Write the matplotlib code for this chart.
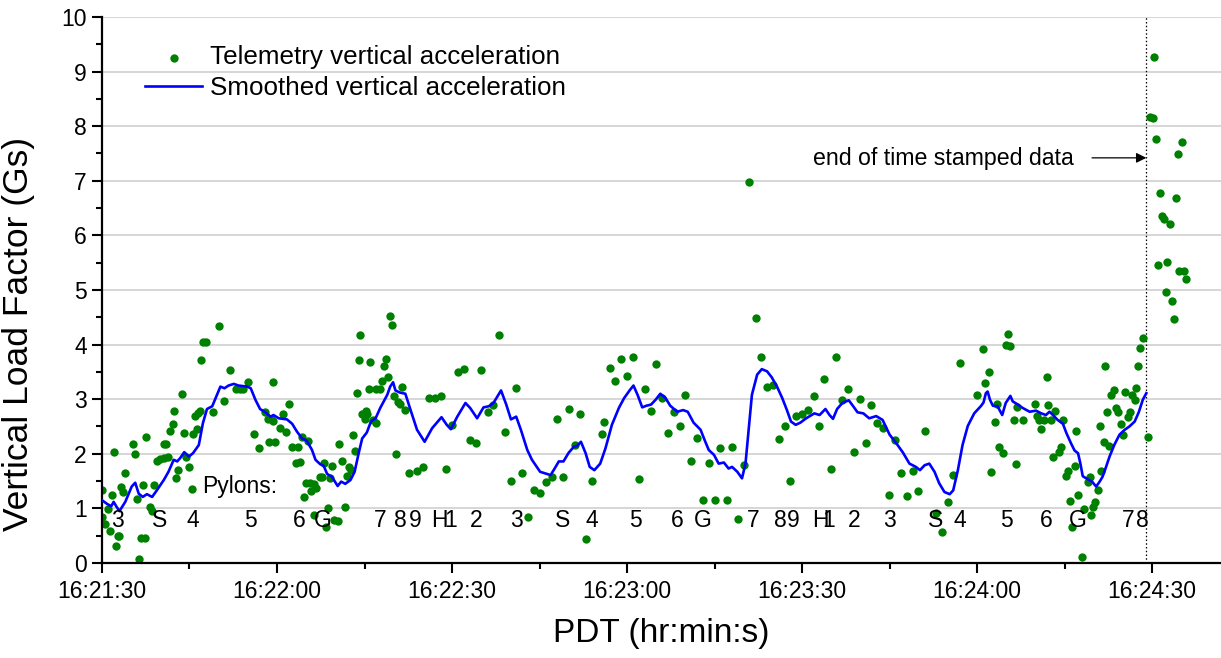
import matplotlib
matplotlib.use("Agg")
import matplotlib.pyplot as plt
from matplotlib.ticker import MultipleLocator, FuncFormatter

plt.rcParams['font.family'] = ['Liberation Sans', 'DejaVu Sans']

# seconds after 16:21:30 PDT
t0 = 16 * 3600 + 21 * 60 + 30

pts_t = [0.0, 0.0, 0.6, 1.0, 1.3, 1.7, 2.0, 2.4, 2.7, 3.0, 3.3, 3.6, 4.0, 5.3, 5.7, 6.0, 6.3, 6.7,
         7.0, 7.4, 7.6, 8.3, 8.6, 9.0, 9.4, 9.9, 10.6, 10.6, 11.0, 11.4, 11.7, 12.1, 12.3, 12.7,
         13.0, 13.7, 14.0, 14.4, 15.0, 15.4, 15.6, 16.0, 16.3, 16.4, 16.8, 17.0, 17.3, 17.8, 19.0,
         20.0, 21.0, 22.0, 22.9, 23.6, 24.2, 25.0, 26.0, 27.0, 28.0, 28.6, 28.4, 28.9, 29.3, 29.4,
         29.7, 30.6, 31.0, 31.6, 32.1, 32.6, 33.3, 33.6, 34.0, 34.3, 34.7, 35.0, 35.4, 35.7, 35.8,
         36.3, 36.4, 36.7, 37.3, 37.8, 38.0, 38.4, 38.7, 39.1, 39.4, 39.7, 40.5, 40.7, 41.1, 41.6,
         42.0, 42.3, 42.7, 43.0, 43.4, 43.7, 44.0, 44.3, 44.6, 45.0, 45.3, 45.5, 45.7, 46.0, 46.5,
         46.9, 46.9, 47.6, 48.0, 48.3, 48.7, 49.0, 49.4, 49.7, 50.0, 50.4, 50.7, 51.1, 51.5, 52.0,
         52.6, 54.0,
         55.0, 56.0, 57.0, 58.1, 59.0, 60.0, 61.0, 62.1, 63.0, 64.1, 65.0, 66.1, 67.0, 68.0, 69.0,
         70.1, 71.0, 72.0, 73.0, 74.0, 75.0, 76.1, 77.1, 78.0, 79.0, 80.0, 81.0, 82.0, 83.0, 84.0,
         85.7, 86.1, 87.0, 88.0, 89.0, 90.0, 91.0, 92.0, 93.0, 94.1, 95.0, 96.0, 97.0, 98.0, 99.0,
         100.0, 101.0, 102.0, 103.0, 104.0, 105.1, 106.0, 107.2, 108.0, 109.1, 110.0, 110.9, 112.1,
         113.0, 114.0, 115.0, 116.1, 117.0, 118.0, 119.0, 120.0, 121.0, 122.0, 122.9,
         123.8, 124.9, 125.8, 126.9, 127.9, 128.9, 129.9, 130.9, 131.8, 132.9, 133.8, 134.9, 135.9,
         137.0, 137.9, 139.0, 139.9, 141.0, 142.9, 144.0, 145.0, 145.9, 147.0, 149.9, 151.0, 151.3,
         152.0, 152.3, 153.0, 153.4, 153.8, 154.4, 154.9, 155.3, 155.7, 156.3, 156.6, 156.9, 157.9,
         159.9, 160.2, 160.6, 161.0, 161.4, 161.9, 162.2, 162.7, 163.0, 163.4, 164.0, 164.3, 164.7,
         165.3, 165.5, 166.0, 166.3, 166.7, 166.9, 167.3, 168.0, 168.4, 169.0, 169.4, 169.6, 169.9,
         170.2, 170.7, 171.0, 171.3, 171.7, 172.0, 172.3, 172.6, 173.0, 173.4, 173.8, 174.2, 174.6,
         175.0, 175.3, 175.8, 176.2, 176.5, 177.0, 177.3, 177.6, 178.0, 178.4, 179.3,
         179.7, 180.2, 180.4, 180.7, 181.0, 181.4, 181.7, 182.1, 182.4, 182.5, 183.1, 183.4, 183.7,
         184.1, 184.5, 184.6, 185.2, 185.5, 185.8]
pts_g = [1.33, 0.85, 0.72, 0.98, 0.59, 1.24, 2.03, 0.32, 0.49, 0.49, 1.40, 1.30, 1.65, 2.18, 2.00,
         1.17, 0.07, 0.45, 1.42, 0.46, 2.30, 1.02, 0.96, 1.42, 1.87, 1.90, 1.92, 2.18, 2.18, 1.95,
         2.42, 2.54, 2.79, 1.56, 1.71, 3.10, 2.38, 1.95, 1.75, 1.35, 2.36, 2.70, 2.45, 2.75, 2.79,
         3.71, 4.04, 4.04, 2.77, 4.34, 2.96, 3.53, 3.18, 3.18, 3.18, 3.31, 2.36, 2.11, 2.77, 2.22,
         2.63, 2.63, 2.60, 3.31, 2.22, 2.47, 2.72, 2.39, 2.91, 2.12, 1.83, 2.12, 1.85, 2.30, 1.21,
         1.47, 2.24, 1.47, 1.32, 1.45, 0.88, 1.38, 1.58, 1.58, 1.84, 0.66, 1.01, 1.55, 1.78, 0.78,
         0.76, 2.18, 1.87, 1.03, 1.59, 1.76, 1.70, 2.35, 2.05, 3.12, 3.71, 4.17, 2.73, 2.63, 2.79,
         2.73, 3.18, 3.69, 2.61, 2.56, 3.18, 3.18, 3.34, 3.61, 3.74, 3.40, 4.52, 4.35, 3.06, 2.00,
         2.95, 2.92, 3.22, 2.80, 1.65, 1.69,
         1.76, 3.02, 3.02, 3.06, 1.73, 2.53, 3.49, 3.55, 2.25, 2.20, 3.54, 2.77, 2.90, 4.18, 2.39,
         1.50, 3.20, 1.65, 0.85, 1.33, 1.29, 1.49, 1.58, 2.63, 1.58, 2.82, 2.16, 2.72, 0.44, 1.50,
         2.36, 2.59, 3.57, 3.34, 3.74, 3.43, 3.78, 1.54, 3.18, 2.79, 3.65, 3.02, 2.38, 2.77, 2.50,
         3.08, 1.87, 2.28, 1.15, 1.84, 1.15, 2.10, 1.15, 2.12, 0.80, 1.79, 6.98, 4.48,
         3.77, 3.23, 3.26, 2.27, 2.50, 1.50, 2.69, 2.73, 2.80, 3.06, 2.50,
         3.37, 1.73, 3.77, 2.99, 3.19, 2.04, 3.01, 2.20, 2.90, 2.56, 2.47, 1.24, 2.25,
         1.64, 1.22, 1.69, 1.32, 2.42, 0.91, 0.56, 1.11, 1.61, 3.66, 3.08, 3.92, 3.29,
         3.49, 1.67, 2.59, 2.91, 2.12, 2.02, 4.00, 4.19, 3.97, 2.62, 1.81, 2.85, 2.62,
         2.91, 2.69, 2.62, 2.45, 2.62, 3.40, 2.90, 2.61, 1.95, 2.79, 2.04, 2.13, 2.62,
         1.59, 1.69, 1.13, 0.66, 1.78, 2.41, 1.24, 0.11, 0.98, 1.49, 1.58, 0.88, 1.02,
         1.12, 1.33, 2.50, 1.69, 2.22, 3.60, 2.77, 2.14, 3.08, 3.17, 2.84, 2.77, 2.55,
         2.35, 3.14, 2.68, 2.76, 3.08, 2.99, 3.20, 3.61, 3.94, 4.12, 2.30,
         8.17, 8.15, 9.27, 7.77, 5.46, 6.77, 6.36, 6.30, 4.96, 5.51, 6.21, 4.80, 4.47,
         6.68, 7.49, 5.34, 7.71, 5.35, 5.21]

smooth_t = [0, 0.9, 1.6, 2.0, 2.5, 3.0, 4.0, 5.1, 5.7, 6.3, 7.0, 7.7, 8.6, 9.4, 10.6, 11.4, 12.3,
            12.9, 13.4, 14.1, 14.9, 15.6, 16.6, 17.3, 18.0, 18.9, 19.6, 20.3, 21.0, 21.7, 22.6,
            23.4, 24.9, 25.5, 26.3, 27.1, 28.0, 28.9, 29.4, 30.3, 31.7, 32.6, 33.4, 34.3, 35.1,
            36.0, 36.6, 37.4, 38.0, 38.6, 39.4, 40.4, 41.0, 41.7, 42.6, 43.3, 44.0, 44.6, 45.4,
            46.1, 46.9, 47.7, 48.9, 49.4, 49.9, 50.3, 51.1, 52.0, 52.9, 54.0, 55.3, 56.6, 58.2,
            59.1, 59.8, 60.9, 62.3, 63.1, 64.3, 65.4, 66.3, 67.1, 68.4, 69.3, 70.1, 71.0, 71.8,
            72.9, 73.7, 75.1, 76.9, 77.7, 78.3, 79.1, 80.0, 80.9, 81.4, 82.1, 82.9, 83.6, 84.4,
            85.4, 86.3, 87.4, 88.6, 89.5, 90.5, 91.1, 91.8, 92.6, 93.3, 94.1, 94.9, 95.7, 96.6,
            97.4, 98.6, 99.6, 100.4, 101.4, 102.6, 103.3, 104.0, 104.9, 105.7, 106.6, 107.4,
            108.0, 108.9, 109.7, 110.3, 110.9, 111.4, 112.3, 113.1, 114.0, 114.8, 115.7, 116.6,
            117.4, 118.1, 118.9, 119.7, 120.7, 122.1, 123.0, 124.0, 124.7, 125.3, 126.0, 126.9,
            128.0, 128.7, 129.5, 130.5, 131.5, 132.7, 133.8, 135.0, 136.1, 137.3, 138.4, 139.5,
            140.2, 141.0, 141.8, 142.7, 143.5, 144.4, 145.3, 145.9, 146.7, 147.5, 148.4, 149.5,
            150.7, 151.1, 151.5, 151.8, 152.2, 152.7, 153.5, 154.3, 154.9, 155.7, 156.1, 157.0,
            157.8, 159.0, 160.1, 161.0, 161.8, 162.4, 163.0, 163.8, 164.7, 165.3, 166.1, 166.7,
            167.3, 167.7, 168.1, 169.0, 169.7, 170.4, 171.0, 171.5, 172.1, 172.7, 173.5, 174.4,
            175.3, 176.1, 177.0, 177.7, 178.4, 179.0]
smooth_g = [1.15, 1.08, 1.04, 1.12, 1.03, 0.95, 1.12, 1.40, 1.47, 1.27, 1.21, 1.26, 1.21, 1.33,
            1.52, 1.67, 1.89, 1.86, 1.92, 2.03, 1.95, 2.01, 2.16, 2.56, 2.82, 2.87, 3.05, 3.23,
            3.20, 3.25, 3.28, 3.25, 3.23, 3.20, 2.99, 2.82, 2.76, 2.68, 2.71, 2.65, 2.63, 2.55,
            2.41, 2.28, 2.24, 2.07, 1.89, 1.81, 1.78, 1.63, 1.58, 1.41, 1.49, 1.45, 1.52, 1.67,
            2.01, 2.28, 2.39, 2.59, 2.65, 2.84, 3.08, 3.23, 3.31, 3.16, 3.12, 3.10, 2.80, 2.44,
            2.22, 2.47, 2.67, 2.53, 2.45, 2.68, 2.93, 2.84, 2.65, 2.85, 2.87, 2.93, 3.16, 2.90,
            2.63, 2.68, 2.44, 2.07, 1.89, 1.67, 1.61, 1.75, 1.86, 1.86, 2.02, 2.13, 2.14, 2.22,
            2.01, 1.76, 1.70, 1.82, 2.10, 2.53, 2.84, 3.02, 3.17, 3.25, 3.08, 2.85, 2.88, 2.90,
            2.99, 3.10, 3.02, 2.88, 2.77, 2.80, 2.77, 2.57, 2.44, 2.25, 2.07, 1.98, 1.82, 1.84,
            1.73, 1.76, 1.67, 1.55, 1.82, 2.50, 3.08, 3.45, 3.55, 3.51, 3.40, 3.23, 3.02, 2.80,
            2.59, 2.53, 2.57, 2.65, 2.74, 2.71, 2.82, 2.71, 2.64, 2.82, 2.93, 2.98, 2.88, 2.76,
            2.74, 2.65, 2.69, 2.62, 2.35, 2.20, 2.02, 1.82, 1.76, 1.70, 1.79, 1.82, 1.67, 1.46,
            1.30, 1.26, 1.33, 1.70, 2.16, 2.51, 2.74, 2.88, 2.94, 3.11, 3.14, 2.99, 2.88, 2.87,
            2.71, 2.93, 3.06, 2.96, 2.90, 2.84, 2.77, 2.79, 2.74, 2.71, 2.77, 2.71, 2.62, 2.55,
            2.38, 2.19, 2.06, 2.01, 1.82, 1.59, 1.53, 1.49, 1.40, 1.49, 1.58, 1.76, 1.95, 2.16,
            2.35, 2.44, 2.50, 2.59, 2.76, 2.99, 3.11]

pylon_labels = ['3', 'S', '4', '5', '6', 'G', '7', '8', '9', 'H', '1', '2', '3', 'S', '4', '5',
                '6', 'G', '7', '8', '9', 'H', '1', '2', '3', 'S', '4', '5', '6', 'G', '7', '8']
pylon_t = [2.7, 9.8, 15.6, 25.4, 33.8, 37.9, 47.7, 51.1, 53.7, 57.9, 59.7, 64.1, 71.0, 78.9,
           84.0, 91.4, 98.6, 103.0, 111.6, 116.2, 118.5, 123.1, 124.5, 128.9, 134.9, 142.8,
           147.1, 155.0, 161.8, 167.2, 175.9, 178.3]

t_end = 179.0

fig = plt.figure(figsize=(12.21, 6.58), dpi=100)
ax = fig.add_axes([0.0835, 0.1444, 0.9165, 0.8298])

ax.grid(axis='y', color='#d0d0d0', linewidth=1.2)
ax.set_axisbelow(True)

ax.scatter(pts_t, pts_g, s=36, color='#008000', linewidths=0, zorder=2,
           label='Telemetry vertical acceleration')
ax.plot(smooth_t, smooth_g, color='#0000ff', linewidth=1.9, zorder=3,
        label='Smoothed vertical acceleration')

ax.axvline(t_end, color='black', linestyle=(0, (1.2, 1.8)), linewidth=0.9, zorder=1)

for lab, t in zip(pylon_labels, pylon_t):
    ax.text(t, 0.78, lab, ha='center', va='center', fontsize=16.5, zorder=4)
ax.text(17.1, 1.40, 'Pylons:', ha='left', va='center', fontsize=16.5, zorder=4)

ax.annotate('', xy=(t_end, 7.42), xytext=(169.7, 7.42),
            arrowprops=dict(arrowstyle='-|>', color='black', lw=0.9, mutation_scale=15,
                            shrinkA=0, shrinkB=0))
ax.text(166.5, 7.40, 'end of time stamped data', ha='right', va='center', fontsize=16.7)

ax.set_xlim(0, 191.8)
ax.set_ylim(0, 10)
ax.xaxis.set_major_locator(MultipleLocator(30))
ax.xaxis.set_minor_locator(MultipleLocator(15))
ax.yaxis.set_major_locator(MultipleLocator(1))
ax.yaxis.set_minor_locator(MultipleLocator(0.5))


def hms(x, pos):
    s = int(round(t0 + x))
    return '%d:%02d:%02d' % (s // 3600, (s % 3600) // 60, s % 60)


ax.xaxis.set_major_formatter(FuncFormatter(hms))
ax.tick_params(which='major', length=7, width=1.5, labelsize=16.5, direction='out')
ax.tick_params(which='minor', length=4, width=1.5, direction='out')
ax.tick_params(axis='x', pad=5)
ax.tick_params(axis='y', pad=4)

for side in ['top', 'right']:
    ax.spines[side].set_visible(False)
for side in ['left', 'bottom']:
    ax.spines[side].set_linewidth(1.6)

ax.set_xlabel('PDT (hr:min:s)', fontsize=24)
ax.set_ylabel('Vertical Load Factor (Gs)', fontsize=25.5)
ax.xaxis.set_label_coords(0.5, -0.101)
ax.yaxis.set_label_coords(-0.060, 0.42)

ax.legend(loc='upper left', bbox_to_anchor=(0.0386, 0.948), frameon=False, fontsize=18.7,
          scatterpoints=1, handlelength=2.2, handletextpad=0.3, labelspacing=0.25,
          borderaxespad=0, borderpad=0)

fig.savefig('out.png', dpi=100)
